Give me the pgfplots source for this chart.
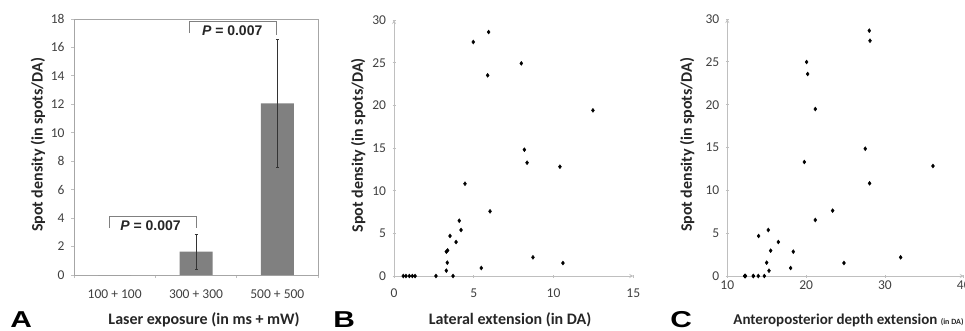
\documentclass[border=0pt]{standalone}
\usepackage{pgfplots}
\pgfplotsset{compat=1.18}
\usepackage{fontspec}
\setmainfont{Carlito}
\newfontfamily\arialf{Liberation Sans}
\definecolor{axgray}{HTML}{BFBFBF}
\definecolor{framegray}{HTML}{A6A6A6}
\definecolor{tickgray}{HTML}{404040}
\definecolor{bargray}{HTML}{808080}
\pgfplotsset{
  panel/.style={
    scale only axis, anchor=south west,
    axis line style={axgray, line width=0.8pt, -},
    tick style={axgray, line width=0.8pt},
    tick align=outside, major tick length=3pt,
    tick label style={font=\fontsize{13.5}{14}\selectfont, text=tickgray},
    yticklabel style={xshift=-3pt},
    /pgf/number format/assume math mode=true,
    label style={font=\bfseries\fontsize{16}{17}\selectfont, text=black!85},
  },
  pmark/.style={only marks, mark=diamond*, mark size=2pt, black},
}
\begin{document}
\begin{tikzpicture}
\useasboundingbox (0,0) rectangle (965pt,330pt);
% ---------------- Panel A ----------------
\begin{axis}[panel, at={(74pt,55pt)}, width=244pt, height=256pt,
  axis line style={framegray, line width=0.8pt},
  xmin=-0.5, xmax=2.5, ymin=0, ymax=18,
  xtick={-0.5,0.5,1.5,2.5}, x tick label as interval,
  xticklabels={100 + 100, 300 + 300, 500 + 500},
  xticklabel style={yshift=-8pt},
  ytick={0,2,...,18},
  xtick pos=bottom, ytick pos=left,
  xlabel={Laser exposure (in ms + mW)},
  ylabel={Spot density (in spots/DA)},
  xlabel style={at={(axis description cs:0.533,-0.195)}, anchor=base},
  ylabel style={at={(axis description cs:-0.1475,0.508)}, anchor=center},
  clip=false]
\addplot[ybar, bar width=33pt, fill=bargray, draw=none] coordinates {(0,0)};
\addplot[ybar, bar width=33pt, fill=bargray, draw=none,
  error bars/.cd, y dir=both, y explicit,
  error bar style={black!80, line width=0.6pt},
  error mark options={rotate=90, mark size=1.5pt, black!80}]
  coordinates {(1,1.64) +- (0,1.2) (2,12.07) +- (0,4.5)};
\draw[gray, line width=0.7pt] (axis cs:-0.07,3.3) |- (axis cs:1.0,4.1) -- (axis cs:1.0,3.3);
\node[font=\arialf\bfseries\fontsize{14}{14}\selectfont, text=black!85] at (axis cs:0.44,3.45) {\textit{P} = 0.007};
\draw[gray, line width=0.7pt] (axis cs:0.92,17.0) |- (axis cs:1.99,17.8) -- (axis cs:1.99,16.9);
\node[font=\arialf\bfseries\fontsize{14}{14}\selectfont, text=black!85] at (axis cs:1.445,17.15) {\textit{P} = 0.007};
\end{axis}
% ---------------- Panel B ----------------
\begin{axis}[panel, at={(394pt,54pt)}, width=239.3pt, height=256pt,
  axis lines=left,
  xmin=0, xmax=15, ymin=0, ymax=30,
  xtick={0,5,10,15}, ytick={0,5,...,30},
  xticklabel style={yshift=-8pt},
  xlabel={Lateral extension (in DA)},
  ylabel={Spot density (in spots/DA)},
  xlabel style={at={(axis description cs:0.485,-0.191)}, anchor=base},
  ylabel style={at={(axis description cs:-0.150,0.51)}, anchor=center},
  clip=false]
\addplot[pmark] coordinates {
 (0.58,0) (0.75,0) (0.96,0) (1.15,0) (1.32,0) (2.63,0) (3.70,0)
 (3.28,0.63) (3.34,1.56) (3.28,2.85) (3.36,3.0) (3.51,4.69)
 (3.89,3.98) (4.09,6.48) (4.20,5.39) (4.45,10.82) (4.97,27.42)
 (5.47,0.94) (6.02,7.58) (5.93,28.59) (5.87,23.52) (7.98,24.92)
 (8.17,14.80) (8.34,13.28) (8.71,2.19) (10.40,12.81) (10.59,1.52)
 (12.47,19.41)};
\end{axis}
% ---------------- Panel C ----------------
\begin{axis}[panel, at={(727.3pt,54pt)}, width=236.5pt, height=257pt,
  axis lines=left,
  xmin=10, xmax=40, ymin=0, ymax=30,
  xtick={10,20,30,40}, ytick={0,5,...,30},
  xticklabel style={yshift=0pt},
  xlabel={Anteroposterior depth extension {\fontsize{8}{8}\selectfont (in DA)}},
  ylabel={Spot density (in spots/DA)},
  xlabel style={at={(axis description cs:0.011,-0.19)}, anchor=base west, font=\bfseries\fontsize{15}{16}\selectfont},
  ylabel style={at={(axis description cs:-0.170,0.51)}, anchor=center},
  clip=false]
\addplot[pmark] coordinates {
 (12.2,0) (12.3,0) (13.3,0) (13.93,0) (14.7,0) (12.25,0) (13.3,0)
 (15.29,0.62) (14.99,1.56) (18.37,2.84) (15.50,2.96) (13.97,4.67)
 (16.47,3.97) (21.16,6.54) (15.20,5.37) (28.05,10.82) (28.10,27.47)
 (18.03,0.93) (23.36,7.63) (28.01,28.64) (20.19,23.58) (20.06,24.98)
 (27.50,14.86) (19.77,13.31) (31.99,2.18) (36.09,12.84) (24.80,1.52)
 (21.16,19.49)};
\end{axis}
% panel letters
\node[anchor=base west, font=\arialf\bfseries\fontsize{23}{23}\selectfont, xscale=1.3, inner sep=0pt] at (10pt,3pt) {A};
\node[anchor=base west, font=\arialf\bfseries\fontsize{23}{23}\selectfont, xscale=1.3, inner sep=0pt] at (333pt,3pt) {B};
\node[anchor=base west, font=\arialf\bfseries\fontsize{23}{23}\selectfont, xscale=1.3, inner sep=0pt] at (670pt,3pt) {C};
\end{tikzpicture}
\end{document}
